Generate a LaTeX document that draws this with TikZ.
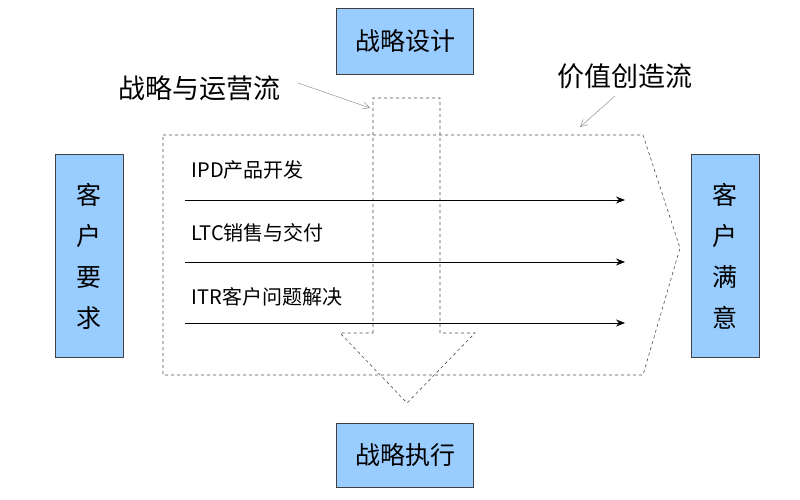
\documentclass[tikz,border=0pt]{standalone}
\usepackage{fontspec}
\setmainfont{Noto Sans CJK SC}
\usetikzlibrary{positioning}
\usetikzlibrary{arrows.meta}
\definecolor{boxblue}{HTML}{99CCFF}
\tikzset{%
  box/.style = {rectangle,draw=black!75,fill=boxblue,line width=0.8pt},
  flow/.style = {draw=black!70,dashed,line width=0.6pt},
  lane/.style = {-{Stealth[length=9pt,width=7pt]},line width=0.6pt},
  note/.style = {draw=black!50,-{Straight Barb[length=7pt,width=7pt]},line width=0.4pt}
}
\begin{document}
\begin{tikzpicture}[x=1pt,y=-1pt]
\useasboundingbox (0,0) rectangle (800,500);
% flows
\draw[flow] (163,135) -- (643,135) -- (680,248) -- (643,375) -- (163,375) -- cycle;
\draw[flow] (373,333) -- (373,98) -- (440,98) -- (440,333) -- (475,333)
    -- (407,403) -- (340,333) -- cycle;
% boxes
\node[box,minimum width=137pt,minimum height=66pt,font=\fontsize{25}{27}\selectfont] (design) at (405,41) {战略设计};
\node[box,minimum width=137pt,minimum height=64pt,font=\fontsize{25}{27}\selectfont] (exec) at (405,455) {战略执行};
\node[box,minimum width=68pt,minimum height=203pt,font=\fontsize{25}{41}\selectfont,align=center] (need) at (89,256) {客\\户\\要\\求};
\node[box,minimum width=68pt,minimum height=203pt,font=\fontsize{25}{41}\selectfont,align=center] (sat) at (725,256) {客\\户\\满\\意};
% lanes
\coordinate (a1) at (185,200); \coordinate (b1) at (625,200);
\coordinate (a2) at (185,262); \coordinate (b2) at (625,262);
\coordinate (a3) at (185,323); \coordinate (b3) at (625,323);
\draw[lane] (a1) -- (b1);
\draw[lane] (a2) -- (b2);
\draw[lane] (a3) -- (b3);
\node[anchor=west,font=\fontsize{20}{22}\selectfont] (ipd) at (188,170) {IPD产品开发};
\node[anchor=west,font=\fontsize{20}{22}\selectfont] (ltc) at (188,233) {LTC销售与交付};
\node[anchor=west,font=\fontsize{20}{22}\selectfont] (itr) at (188,297) {ITR客户问题解决};
% notes
\node[font=\fontsize{27}{29}\selectfont] (sop) at (199,88) {战略与运营流};
\node[font=\fontsize{27}{29}\selectfont] (vcf) at (625,76) {价值创造流};
\coordinate (sopstart) at (298,83);
\coordinate (sopend) at (370,108);
\coordinate (vcfstart) at (615,96);
\coordinate (vcfend) at (580,127);
\draw[note] (sopstart) -- (sopend);
\draw[note] (vcfstart) -- (vcfend);
\end{tikzpicture}
\end{document}
